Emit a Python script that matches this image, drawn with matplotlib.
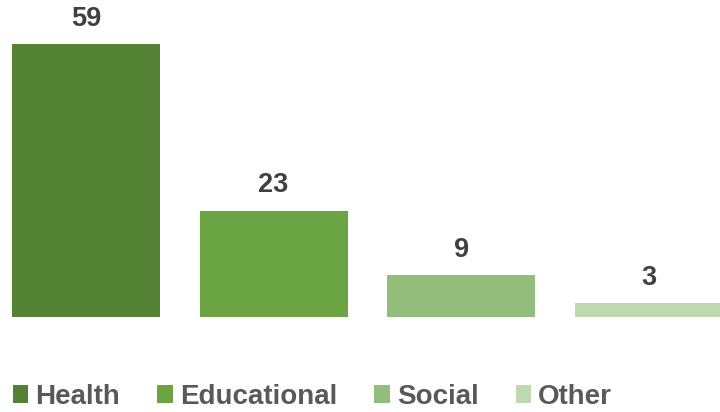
import matplotlib
matplotlib.use("Agg")
import matplotlib.pyplot as plt
from matplotlib.patches import Patch

categories = ["Health", "Educational", "Social", "Other"]
values = [59, 23, 9, 3]
colors = ["#548235", "#6AA443", "#93BD7A", "#BED8B0"]

plt.rcParams['font.family'] = ['Liberation Sans', 'DejaVu Sans']

W, H = 720, 412
fig = plt.figure(figsize=(W / 100, H / 100), dpi=100)
# axes geometry in pixels
bottom_px = 317
unit_x = 187.6
center0 = 86
ax = fig.add_axes([0, (H - bottom_px) / H, 1, bottom_px / H])
ax.set_xlim(-center0 / unit_x, (W - center0) / unit_x)
ax.set_ylim(0, bottom_px / ((317 - 44) / 59))

x = list(range(len(categories)))
bars = ax.bar(x, values, width=148 / unit_x, color=colors)
for xi, v in zip(x, values):
    ax.annotate(str(v), (xi, v), xytext=(0, 9), textcoords="offset points",
                ha="center", va="bottom", fontsize=19.5, fontweight="bold",
                color="#404040")
ax.axis("off")

handles = [Patch(facecolor=c, edgecolor="none") for c in colors]
leg = fig.legend(handles, categories, loc="center left",
                 bbox_to_anchor=(13 / W, 15 / H), ncol=4, frameon=False,
                 prop={"size": 20, "weight": "bold"},
                 handlelength=0.55, handleheight=0.6, handletextpad=0.25,
                 columnspacing=1.35, borderpad=0, borderaxespad=0)
for t in leg.get_texts():
    t.set_color("#595959")

fig.savefig("out.png", dpi=100)
